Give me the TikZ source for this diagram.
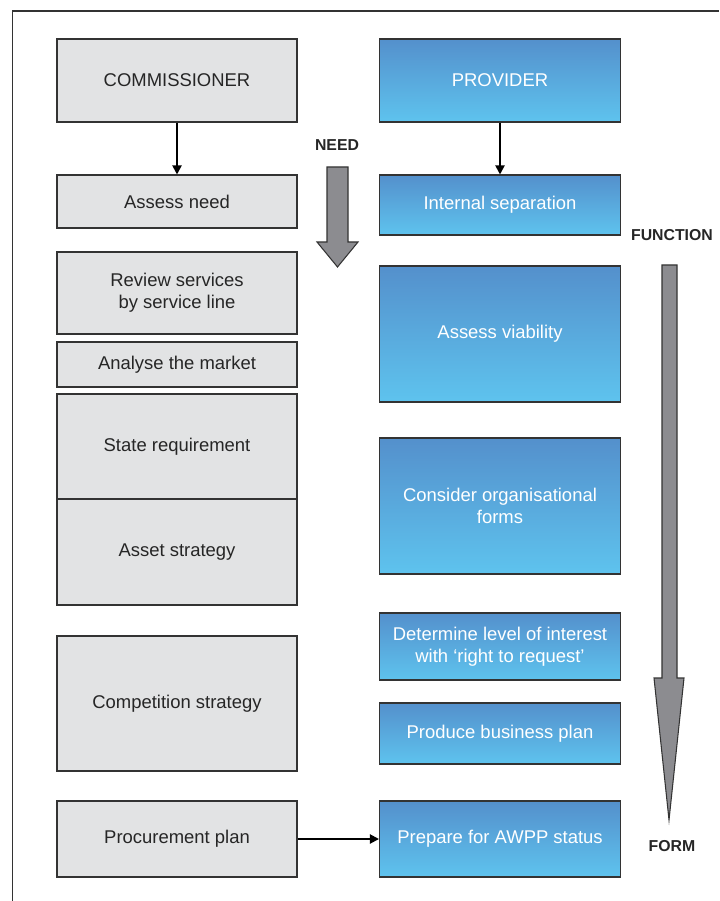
\documentclass[tikz,border=0pt]{standalone}
\usepackage{fontspec}
\setmainfont{Liberation Sans}
\usetikzlibrary{arrows.meta}

\definecolor{boxgray}{HTML}{E2E3E4}
\definecolor{blutop}{HTML}{5490CC}
\definecolor{blubot}{HTML}{5EC3EE}
\definecolor{arrgray}{HTML}{8C8C90}
\definecolor{edge}{HTML}{333333}

\tikzset{
    comm/.style={draw=edge, line width=0.6pt, fill=boxgray, minimum width=4.8cm,
        align=center, font=\fontsize{10.5}{12.5}\selectfont, text=black!85},
    prov/.style={draw=edge, line width=0.6pt, top color=blutop, bottom color=blubot,
        minimum width=4.82cm, align=center, font=\fontsize{10.5}{12.5}\selectfont, text=white},
    flow/.style={draw=edge, line width=0.6pt, fill=arrgray},
    tag/.style={font=\fontsize{9}{11}\selectfont\bfseries, text=black!85}
}

\begin{document}
\begin{tikzpicture}[x=0.02cm, y=-0.02cm, >={Triangle[length=5.2pt,width=5.2pt]}]
    \useasboundingbox (0,0) rectangle (719,901);
    % Rahmen (nur oben und links sichtbar)
    \draw[line width=0.6pt, edge] (12.5,901) -- (12.5,11) -- (719,11);

    % linke Spalte
    \node[comm, minimum height=1.66cm] (commissioner) at (177,80.5) {COMMISSIONER};
    \node[comm, minimum height=1.06cm] (need) at (177,201.5) {Assess need};
    \node[comm, minimum height=1.64cm] (review) at (177,293) {Review services\\by service line};
    \node[comm, minimum height=0.9cm] (market) at (177,364.5) {Analyse the market};
    \node[comm, minimum height=2.1cm] (require) at (177,446.5) {State requirement};
    \node[comm, minimum height=2.12cm] (asset) at (177,552) {Asset strategy};
    \node[comm, minimum height=2.7cm] (compete) at (177,703.5) {Competition strategy};
    \node[comm, minimum height=1.52cm] (procure) at (177,839) {Procurement plan};

    % rechte Spalte
    \node[prov, minimum height=1.66cm] (provider) at (500,80.5) {PROVIDER};
    \node[prov, minimum height=1.2cm] (separate) at (500,205) {Internal separation};
    \node[prov, minimum height=2.72cm] (viable) at (500,334) {Assess viability};
    \node[prov, minimum height=2.72cm] (forms) at (500,506) {Consider organisational\\forms};
    \node[prov, minimum height=1.34cm] (interest) at (500,646.5) {Determine level of interest\\with ‘right to request’};
    \node[prov, minimum height=1.22cm] (business) at (500,733.5) {Produce business plan};
    \node[prov, minimum height=1.52cm] (awpp) at (500,839) {Prepare for AWPP status};

    % Verbindungen
    \draw[->, line width=1.1pt] (commissioner) -- (need);
    \draw[->, line width=1.1pt] (provider) -- (separate);
    \draw[->, line width=1.1pt] (procure) -- (awpp);

    % große Pfeile
    \node[tag] (needtag) at (337,145) {NEED};
    \draw[flow] (327,167) -- (348,167) -- (348,242) -- (358,242) -- (337.5,267)
        -- (317,242) -- (327,242) -- cycle;
    \node[tag] (functag) at (672,235) {FUNCTION};
    \draw[flow] (662,265) -- (677,265) -- (677,678) -- (684,678) -- (669,820)
        -- (654,678) -- (662,678) -- cycle;
    \node[tag] (formtag) at (672,846) {FORM};
\end{tikzpicture}
\end{document}
